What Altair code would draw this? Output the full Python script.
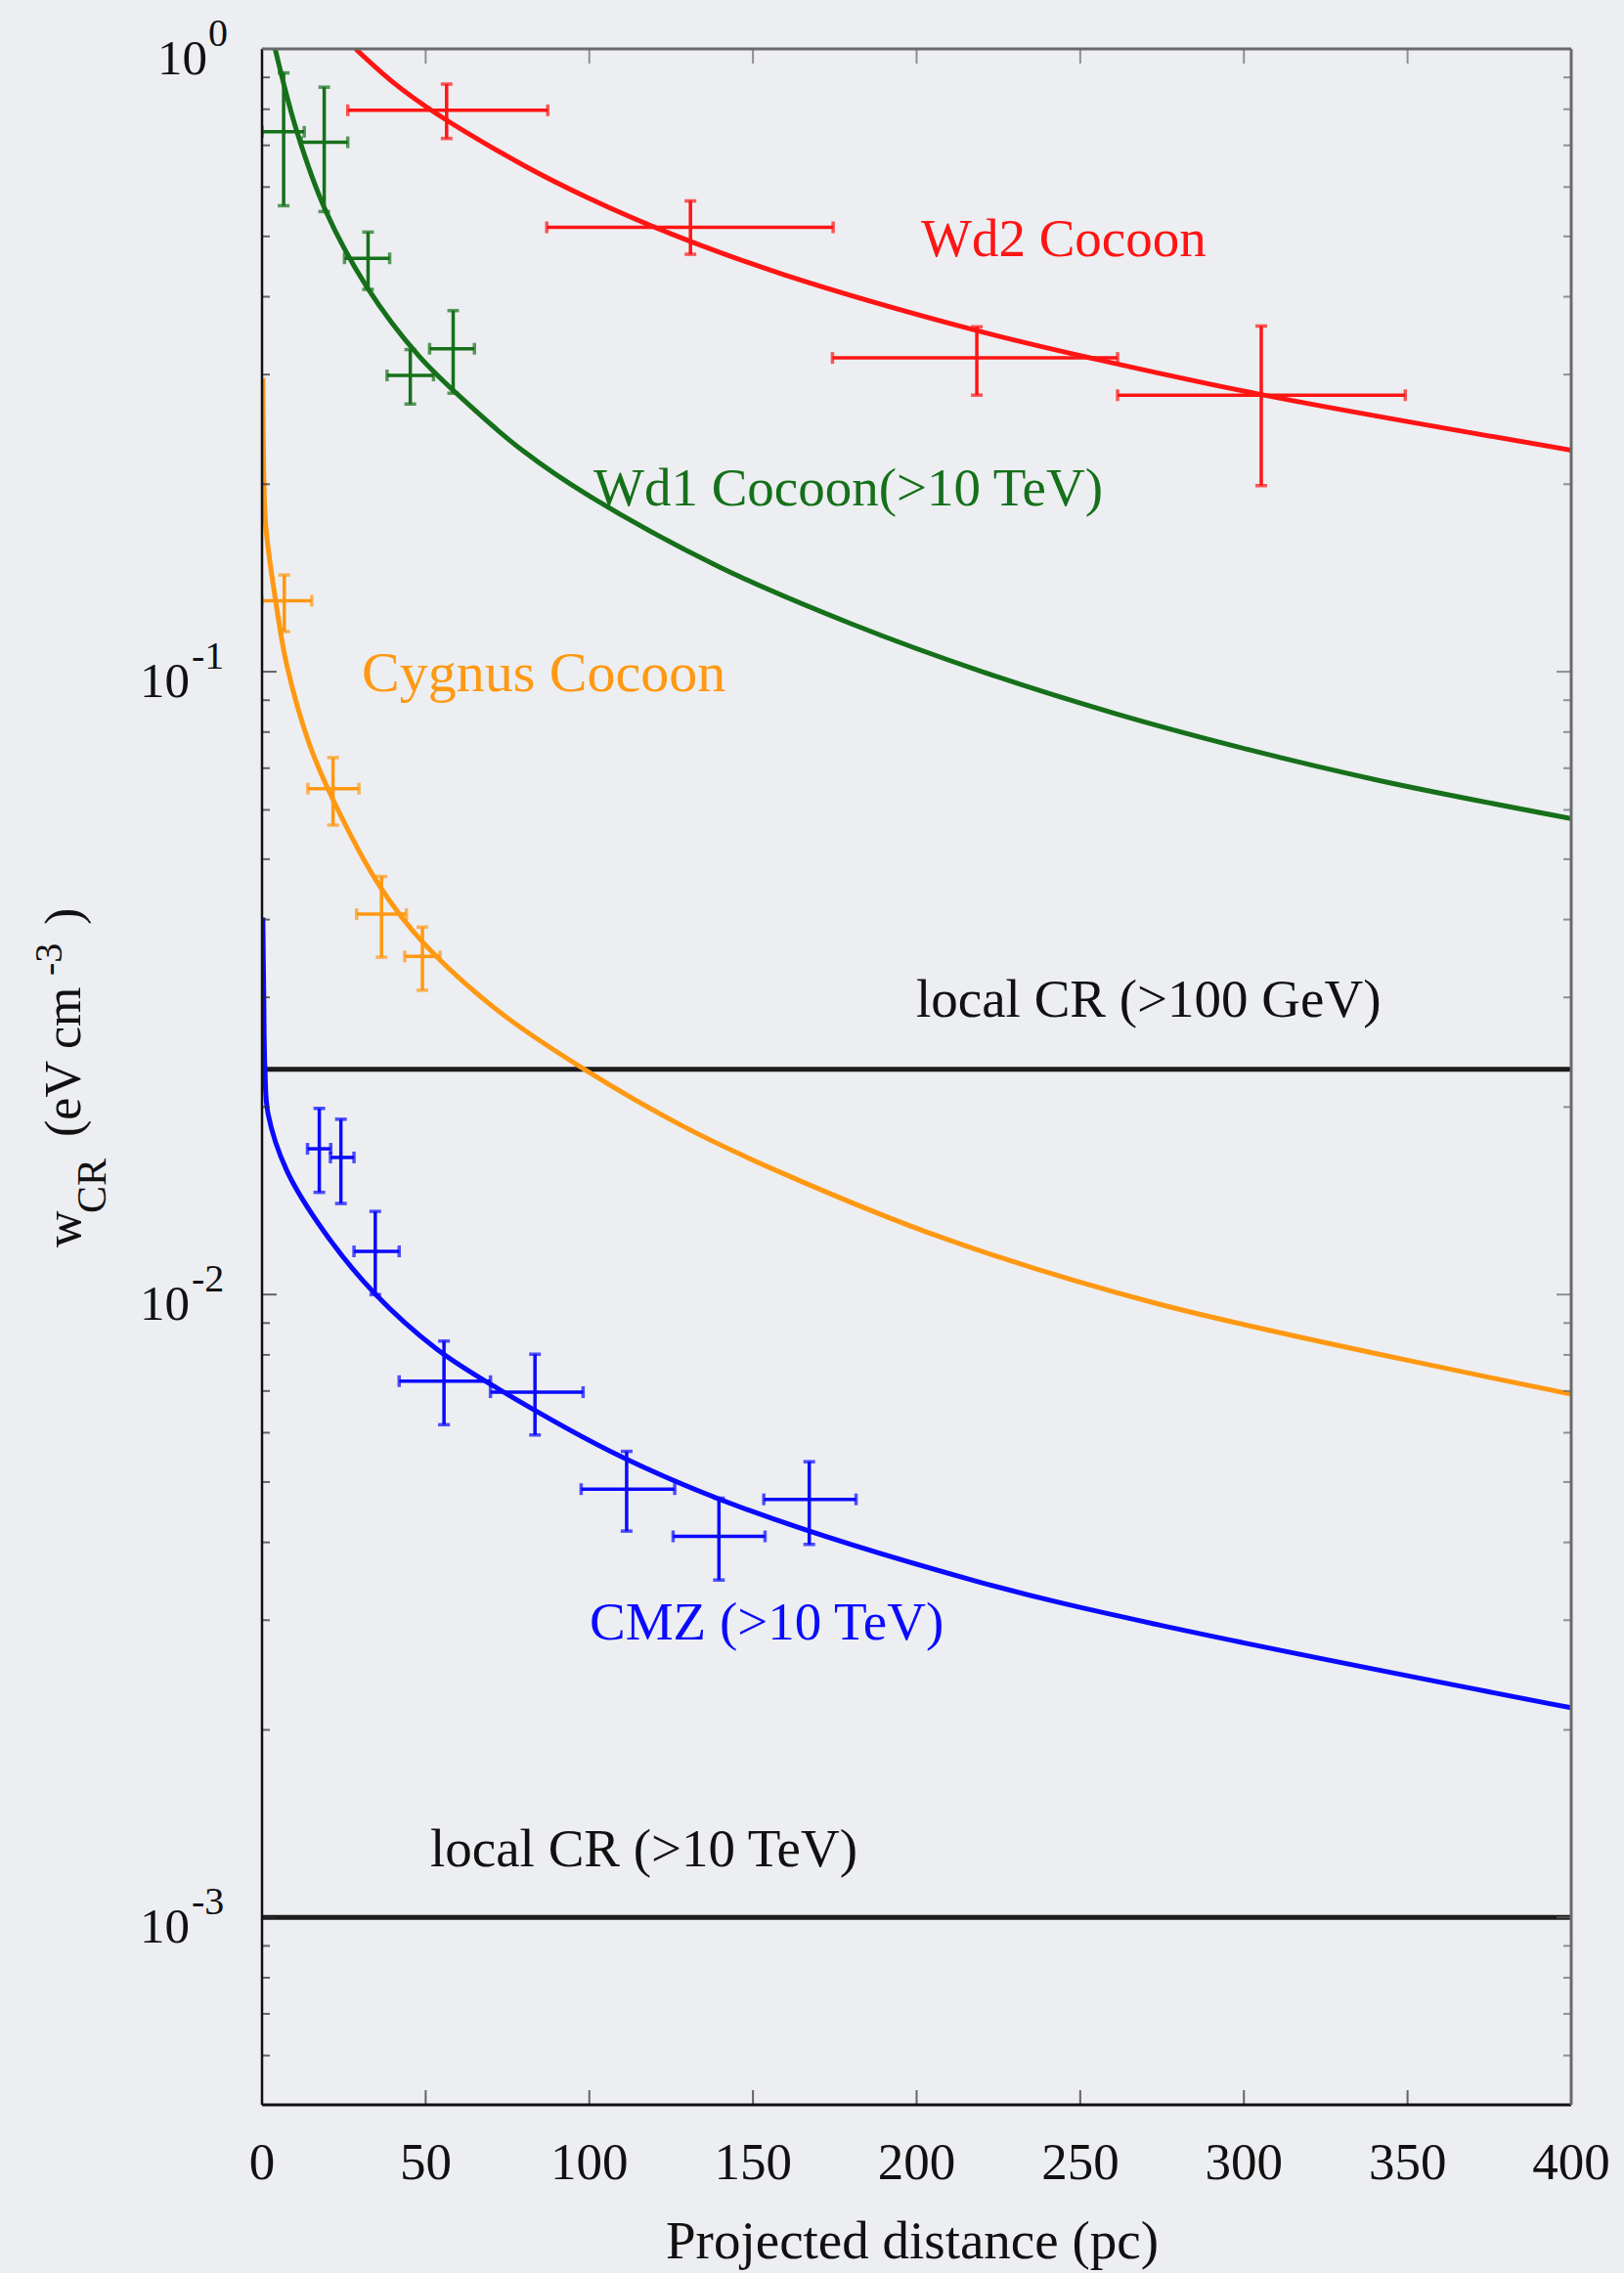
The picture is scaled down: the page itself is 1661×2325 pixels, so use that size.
import altair as alt
import pandas as pd

# plot-area size in pixels and the margins around it
W, H = 1339, 2103
PAD = {"left": 268, "top": 50, "right": 54, "bottom": 172}
FONT = "Liberation Serif"
BG = "#eceef1"
INK = "#111111"

SERIES = ["Wd2", "Wd1", "Cygnus", "CMZ"]
COLORS = ["#ff1414", "#16701a", "#ff9812", "#0a0aff"]

# ---- measured CR energy densities (value, x-range, y-range) ----
wd2_r = [56.4, 130.9, 218.4, 305.3]
wd2_w = [0.797, 0.517, 0.319, 0.278]
wd2_r_lo = [26.2, 87.0, 174.3, 261.4]
wd2_r_hi = [87.3, 174.5, 261.4, 349.3]
wd2_w_lo = [0.718, 0.468, 0.278, 0.199]
wd2_w_hi = [0.878, 0.570, 0.358, 0.359]

wd1_r = [6.6, 19.0, 32.4, 45.3, 58.4]
wd1_w = [0.736, 0.708, 0.461, 0.299, 0.330]
wd1_r_lo = [0.0, 12.0, 25.2, 38.2, 51.2]
wd1_r_hi = [12.9, 26.2, 39.0, 52.4, 64.9]
wd1_w_lo = [0.560, 0.548, 0.411, 0.269, 0.280]
wd1_w_hi = [0.915, 0.868, 0.508, 0.329, 0.380]

cyg_r = [6.8, 21.7, 36.5, 49.0]
cyg_w = [0.130, 0.0649, 0.0408, 0.0349]
cyg_r_lo = [0.0, 14.0, 28.9, 43.6]
cyg_r_hi = [15.2, 29.6, 44.1, 54.4]
cyg_w_lo = [0.116, 0.0567, 0.0348, 0.0308]
cyg_w_hi = [0.143, 0.0728, 0.0469, 0.0389]

cmz_r = [17.5, 24.1, 34.6, 55.6, 83.4, 111.4, 139.6, 167.2]
cmz_w = [0.01714, 0.0166, 0.01173, 0.00726, 0.00697, 0.00487, 0.00409, 0.00469]
cmz_r_lo = [13.9, 20.9, 28.1, 41.9, 69.8, 97.5, 125.6, 153.3]
cmz_r_hi = [21.0, 28.1, 41.9, 69.8, 98.1, 126.1, 153.7, 181.5]
cmz_w_lo = [0.01459, 0.0140, 0.0100, 0.00618, 0.00595, 0.00417, 0.00348, 0.00397]
cmz_w_hi = [0.0199, 0.01912, 0.0136, 0.00842, 0.00802, 0.0056, 0.00471, 0.00539]

# ---- model profiles ----
wd2_fit_r = [28.6, 40, 53.3, 80, 99.2, 125.3, 159.8, 218.4, 255.8, 305.3, 400]
wd2_fit_w = [1.0, 0.884, 0.787, 0.650, 0.578, 0.504, 0.4335, 0.353, 0.3167, 0.2786, 0.2268]

wd1_fit_r = [4.0, 10.6, 19.3, 32, 48, 64, 80, 99.2, 139.6, 180, 220.5, 260.9, 301.3,
             341.8, 400]
wd1_fit_w = [1.0, 0.738, 0.552, 0.415, 0.321, 0.266, 0.2257, 0.1926, 0.1474, 0.1194,
             0.0998, 0.0856, 0.0750, 0.0668, 0.0581]

cyg_fit_r = [0.25, 0.6, 1.2, 4.5, 7.6, 14.4, 21.7, 35.8, 49.5, 72.3, 99, 128.7, 158.9,
             208, 273.8, 400]
cyg_fit_w = [0.296, 0.20, 0.170, 0.1265, 0.1023, 0.0767, 0.0623, 0.0454, 0.0366, 0.0285,
             0.0229, 0.01862, 0.01567, 0.01233, 0.00966, 0.00692]

cmz_fit_r = [0.25, 0.5, 0.9, 1.85, 7.6, 19.0, 34.2, 53.3, 72.3, 110.4, 148.5, 218.7,
             273.8, 400]
cmz_fit_w = [0.0403, 0.031, 0.0229, 0.0195, 0.0158, 0.01261, 0.01007, 0.00818, 0.00705,
             0.00547, 0.00451, 0.00346, 0.00295, 0.00217]

# local cosmic-ray reference levels
local_levels = [0.023, 0.001]

# axis ticks
x_ticks = [0, 50, 100, 150, 200, 250, 300, 350, 400]
x_tick_labels = ["0", "50", "100", "150", "200", "250", "300", "350", "400"]
y_major = [1.0, 0.1, 0.01, 0.001]
y_exponents = ["0", "-1", "-2", "-3"]
y_minor = [0.9, 0.8, 0.7, 0.6, 0.5, 0.4, 0.3, 0.2,
           0.09, 0.08, 0.07, 0.06, 0.05, 0.04, 0.03, 0.02,
           0.009, 0.008, 0.007, 0.006, 0.005, 0.004, 0.003, 0.002,
           0.0009, 0.0008, 0.0007, 0.0006]

# ---- tables ----
meas = {
    "Wd2": (wd2_r, wd2_w, wd2_r_lo, wd2_r_hi, wd2_w_lo, wd2_w_hi),
    "Wd1": (wd1_r, wd1_w, wd1_r_lo, wd1_r_hi, wd1_w_lo, wd1_w_hi),
    "Cygnus": (cyg_r, cyg_w, cyg_r_lo, cyg_r_hi, cyg_w_lo, cyg_w_hi),
    "CMZ": (cmz_r, cmz_w, cmz_r_lo, cmz_r_hi, cmz_w_lo, cmz_w_hi),
}
fits = {
    "Wd2": (wd2_fit_r, wd2_fit_w),
    "Wd1": (wd1_fit_r, wd1_fit_w),
    "Cygnus": (cyg_fit_r, cyg_fit_w),
    "CMZ": (cmz_fit_r, cmz_fit_w),
}

pts_rows, vcap_rows, hcap_rows, fit_rows = [], [], [], []
for s, (r, w, rlo, rhi, wlo, whi) in meas.items():
    for i in range(len(r)):
        pts_rows.append(dict(series=s, r=r[i], w=w[i], r_lo=rlo[i], r_hi=rhi[i],
                             w_lo=wlo[i], w_hi=whi[i]))
        vcap_rows += [dict(series=s, r=r[i], w=wlo[i]), dict(series=s, r=r[i], w=whi[i])]
        hcap_rows += [dict(series=s, r=rlo[i], w=w[i]), dict(series=s, r=rhi[i], w=w[i])]
for s, (r, w) in fits.items():
    for i in range(len(r)):
        fit_rows.append(dict(series=s, i=i, r=r[i], w=w[i]))

pts = pd.DataFrame(pts_rows)
vcaps = pd.DataFrame(vcap_rows)
hcaps = pd.DataFrame(hcap_rows)
fit_df = pd.DataFrame(fit_rows)
levels_df = pd.DataFrame({"w": local_levels})
xt_df = pd.DataFrame({"r": x_ticks, "lab": x_tick_labels})
ymaj_df = pd.DataFrame({"w": y_major, "exp": y_exponents})
ymin_df = pd.DataFrame({"w": y_minor})
one = pd.DataFrame({"k": [0]})

xs = alt.Scale(domain=[0, 400], nice=False, zero=False)
ys = alt.Scale(type="log", domain=[0.0005, 1.0], nice=False)
cs = alt.Scale(domain=SERIES, range=COLORS)
color = alt.Color("series:N", scale=cs, legend=None)


def X(field):
    return alt.X(field, type="quantitative", scale=xs, axis=None, title=None)


def Y(field):
    return alt.Y(field, type="quantitative", scale=ys, axis=None, title=None)


# local CR reference lines
local_lines = alt.Chart(levels_df).mark_rule(color="#1b1b1b", strokeWidth=5).encode(y=Y("w"))

# model curves
curves = alt.Chart(fit_df).mark_line(strokeWidth=5, interpolate="catmull-rom", clip=True).encode(
    x=X("r"), y=Y("w"), color=color, detail="series:N", order="i:Q")

# error bars with end caps
EB = 3.5
vbars = alt.Chart(pts).mark_rule(strokeWidth=EB, clip=True).encode(
    x=X("r"), y=Y("w_lo"), y2="w_hi", color=color)
hbars = alt.Chart(pts).mark_rule(strokeWidth=EB, clip=True).encode(
    x=X("r_lo"), x2="r_hi", y=Y("w"), color=color)
vcap_marks = alt.Chart(vcaps).mark_tick(orient="horizontal", size=12, thickness=EB, clip=True).encode(
    x=X("r"), y=Y("w"), color=color)
hcap_marks = alt.Chart(hcaps).mark_tick(orient="vertical", size=12, thickness=EB, clip=True).encode(
    x=X("r"), y=Y("w"), color=color)

# inward ticks on all four sides
tick_col = "#2a2a2a"
side_col = "#666666"
xt_bottom = alt.Chart(xt_df).mark_tick(orient="vertical", size=15, thickness=2, color=tick_col).encode(
    x=X("r"), y=alt.value(H - 7.5))
xt_top = alt.Chart(xt_df).mark_tick(orient="vertical", size=15, thickness=2, color=side_col).encode(
    x=X("r"), y=alt.value(7.5))
yt_left_major = alt.Chart(ymaj_df).mark_tick(orient="horizontal", size=15, thickness=2, color=tick_col).encode(
    y=Y("w"), x=alt.value(7.5))
yt_left_minor = alt.Chart(ymin_df).mark_tick(orient="horizontal", size=8, thickness=2, color=tick_col).encode(
    y=Y("w"), x=alt.value(4))
yt_right_major = alt.Chart(ymaj_df).mark_tick(orient="horizontal", size=15, thickness=2, color=side_col).encode(
    y=Y("w"), x=alt.value(W - 7.5))
yt_right_minor = alt.Chart(ymin_df).mark_tick(orient="horizontal", size=8, thickness=2, color=side_col).encode(
    y=Y("w"), x=alt.value(W - 4))

# frame
frame_left = alt.Chart(one).mark_rule(color=INK, strokeWidth=2.5).encode(
    x=alt.value(0), y=alt.value(0), y2=alt.value(H))
frame_bottom = alt.Chart(one).mark_rule(color=INK, strokeWidth=3).encode(
    x=alt.value(0), x2=alt.value(W), y=alt.value(H))
frame_top = alt.Chart(one).mark_rule(color="#6a6a6a", strokeWidth=3).encode(
    x=alt.value(0), x2=alt.value(W), y=alt.value(0))
frame_right = alt.Chart(one).mark_rule(color="#6a6a6a", strokeWidth=3).encode(
    x=alt.value(W), y=alt.value(0), y2=alt.value(H))

# x tick labels
x_labels = alt.Chart(xt_df).mark_text(
    font=FONT, fontSize=53, align="center", baseline="alphabetic", color=INK).encode(
    x=X("r"), y=alt.value(H + 76), text="lab:N")

# y tick labels: "10" with a raised exponent
ten_zero = alt.Chart(ymaj_df).transform_filter("datum.exp == '0'").mark_text(
    font=FONT, fontSize=51, align="right", baseline="alphabetic", dy=26, color=INK).encode(
    y=Y("w"), x=alt.value(-56), text=alt.value("10"))
ten_neg = alt.Chart(ymaj_df).transform_filter("datum.exp != '0'").mark_text(
    font=FONT, fontSize=51, align="right", baseline="alphabetic", dy=26, color=INK).encode(
    y=Y("w"), x=alt.value(-74), text=alt.value("10"))
exp_zero = alt.Chart(ymaj_df).transform_filter("datum.exp == '0'").mark_text(
    font=FONT, fontSize=40, align="left", baseline="alphabetic", dy=-3, color=INK).encode(
    y=Y("w"), x=alt.value(-55), text="exp:N")
exp_neg = alt.Chart(ymaj_df).transform_filter("datum.exp != '0'").mark_text(
    font=FONT, fontSize=40, align="left", baseline="alphabetic", dy=-3, color=INK).encode(
    y=Y("w"), x=alt.value(-72), text="exp:N")


def label(txt, x, y, col, size=55, angle=0):
    return alt.Chart(one).mark_text(
        text=txt, font=FONT, fontSize=size, align="left", baseline="alphabetic",
        color=col, angle=angle).encode(x=alt.value(x), y=alt.value(y))


annotations = [
    label("Wd2 Cocoon", 674, 212, COLORS[0]),
    label("Wd1 Cocoon(>10 TeV)", 339, 467, COLORS[1]),
    label("Cygnus Cocoon", 102, 657, COLORS[2], size=58),
    label("local CR (>100 GeV)", 669, 990, INK),
    label("CMZ (>10 TeV)", 335, 1627, COLORS[3]),
    label("local CR (>10 TeV)", 172, 1859, INK),
]

# rotated y title: w_CR (eV cm^-3)
y_title = [
    label("w", -186, 1226, INK, size=52, angle=270),
    label("CR", -160, 1191, INK, size=42, angle=270),
    label("(eV cm", -186, 1113, INK, size=52, angle=270),
    label("-3", -205, 948, INK, size=40, angle=270),
    label(")", -186, 896, INK, size=52, angle=270),
]

x_title = alt.Chart(one).mark_text(
    text="Projected distance (pc)", font=FONT, fontSize=55, align="center",
    baseline="alphabetic", color=INK).encode(x=alt.value(665), y=alt.value(H + 157))

chart = alt.layer(
    local_lines, curves, vbars, hbars, vcap_marks, hcap_marks,
    xt_bottom, xt_top, yt_left_major, yt_left_minor, yt_right_major, yt_right_minor,
    frame_left, frame_bottom, frame_top, frame_right,
    x_labels, ten_zero, ten_neg, exp_zero, exp_neg,
    *annotations, *y_title, x_title,
).properties(
    width=W, height=H, padding=PAD, autosize=alt.AutoSizeParams(type="none"),
    background=BG,
).configure_view(stroke=None, fill=BG)

chart.save("out.html", embed_options={"renderer": "svg", "actions": False})
